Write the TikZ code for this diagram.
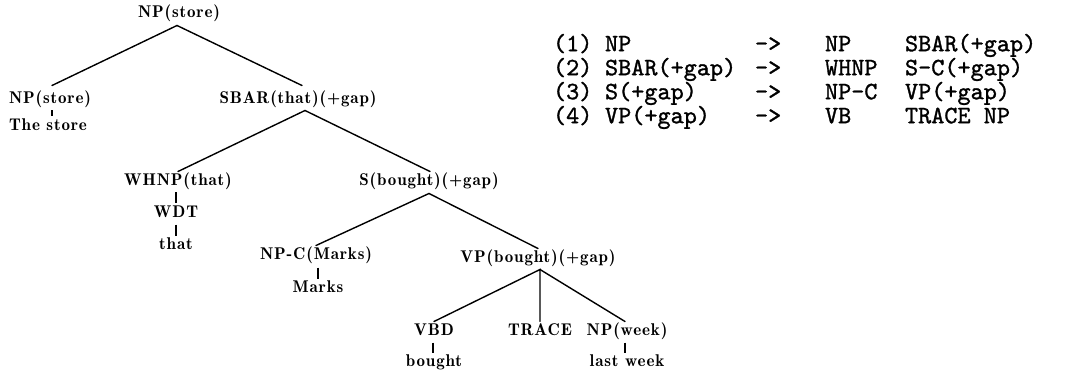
\documentclass[tikz,border=0pt]{standalone}
\usepackage{fontspec}
\usetikzlibrary{calc}
\newfontfamily\treefam{lmromandemi10-regular}[Extension=.otf, LetterSpace=5]
\newfontfamily\monofam{lmmono10-regular}[Extension=.otf, FakeBold=1.2]
\newcommand\treetxt{\treefam\fontsize{17}{20}\selectfont}
\newcommand\tabtxt{\monofam\fontsize{25}{29}\selectfont}
\tikzset{
  tn/.style={inner sep=0pt, outer sep=0pt, font=\treetxt, text height=12.75pt, text depth=4.25pt},
  tb/.style={inner sep=0pt, outer sep=0pt, anchor=west, font=\tabtxt, text height=18.75pt, text depth=6.25pt},
  br/.style={line width=1.4pt, line cap=round},
  pipe/.style={line width=1.1pt},
}
\begin{document}
\begin{tikzpicture}[x=1pt,y=-1pt]
\useasboundingbox (0,0) rectangle (1065,374);
% tree nodes
\node[tn] (root) at (179,13) {NP(store)};
\node[tn] (npL) at (50,99) {NP(store)};
\node[tn] (ts) at (48,126) {The store};
\node[tn] (sbar) at (298,99) {SBAR(that)(+gap)};
\node[tn] (whnp) at (178,181) {WHNP(that)};
\node[tn] (wdt) at (176,213) {WDT};
\node[tn] (that) at (176,245) {that};
\node[tn] (sb) at (429,181) {S(bought)(+gap)};
\node[tn] (npc) at (316,255) {NP-C(Marks)};
\node[tn] (marks) at (318,288) {Marks};
\node[tn] (vp) at (538,258) {VP(bought)(+gap)};
\node[tn] (vbd) at (434,331) {VBD};
\node[tn] (trace) at (540,331) {TRACE};
\node[tn] (npw) at (627,331) {NP(week)};
\node[tn] (bought) at (434,362) {bought};
\node[tn] (lw) at (627,362) {last week};
% branches
\draw[br] ([xshift=2pt,yshift=5pt]npL.north) -- ([xshift=-2pt,yshift=-4pt]root.south) -- ([xshift=4pt,yshift=5pt]sbar.north);
\draw[br] ([yshift=1pt]whnp.north) -- ([xshift=7pt,yshift=-3pt]sbar.south) -- ([xshift=1pt,yshift=1pt]sb.north);
\draw[br] ([yshift=1pt]npc.north) -- ([yshift=-4pt]sb.south) -- ([yshift=1pt]vp.north);
\coordinate (vpA) at ([xshift=2pt,yshift=-3pt]vp.south);
\draw[br] ([yshift=1pt]vbd.north) -- (vpA) -- ([yshift=1pt]trace.north);
\draw[br] (vpA) -- ([xshift=-2pt,yshift=1pt]npw.north);
% pipes
\draw[pipe] ([xshift=2pt,yshift=-3pt]npL.south) -- ([xshift=4pt,yshift=1pt]ts.north);
\draw[pipe] ([xshift=-2pt,yshift=-3pt]whnp.south) -- ([yshift=1pt]wdt.north);
\draw[pipe] ([yshift=-3pt]wdt.south) -- ([yshift=1pt]that.north);
\draw[pipe] ([xshift=2pt,yshift=-4pt]npc.south) -- ([yshift=1pt]marks.north);
\draw[pipe] ([xshift=-1pt,yshift=-3pt]vbd.south) -- ([xshift=-1pt,yshift=1pt]bought.north);
\draw[pipe] ([xshift=-2pt,yshift=-3pt]npw.south) -- ([xshift=-2pt,yshift=1pt]lw.north);
% rules table
\node[tb] (a1) at (553,45) {(1)};
\node[tb] (b1) at (605,45) {NP};
\node[tb] (c1) at (755,45) {->};
\node[tb] (d1) at (825,45) {NP};
\node[tb] (e1) at (905,45) {SBAR(+gap)};
\node[tb] (a2) at (553,69) {(2)};
\node[tb] (b2) at (605,69) {SBAR(+gap)};
\node[tb] (c2) at (755,69) {->};
\node[tb] (d2) at (825,69) {WHNP};
\node[tb] (e2) at (905,69) {S-C(+gap)};
\node[tb] (a3) at (553,93) {(3)};
\node[tb] (b3) at (605,93) {S(+gap)};
\node[tb] (c3) at (755,93) {->};
\node[tb] (d3) at (825,93) {NP-C};
\node[tb] (e3) at (905,93) {VP(+gap)};
\node[tb] (a4) at (553,117) {(4)};
\node[tb] (b4) at (605,117) {VP(+gap)};
\node[tb] (c4) at (755,117) {->};
\node[tb] (d4) at (825,117) {VB};
\node[tb] (e4) at (905,117) {TRACE NP};
\end{tikzpicture}
\end{document}
